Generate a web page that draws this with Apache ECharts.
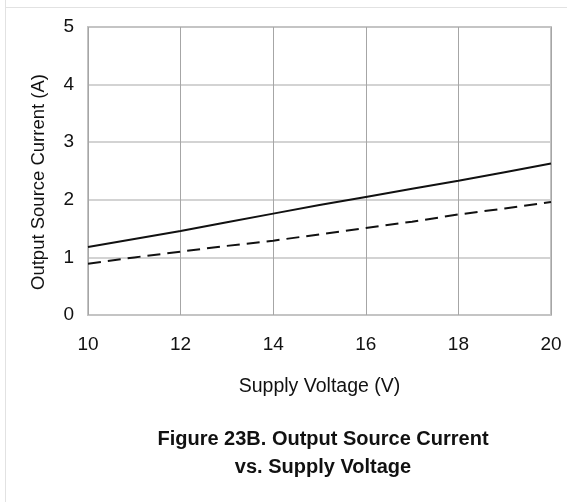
<!DOCTYPE html>
<html>
<head>
<meta charset="utf-8">
<script src="https://cdn.jsdelivr.net/npm/echarts@6/dist/echarts.min.js"></script>
<style>
html,body{margin:0;padding:0;background:#fff;}
#c{width:567px;height:502px;}
</style>
</head>
<body>
<div id="c"></div>
<script>
var voltage = [10, 11, 12, 13, 14, 15, 16, 17, 18, 19, 20];
var currentSolid = [1.18, 1.32, 1.46, 1.61, 1.76, 1.91, 2.05, 2.19, 2.33, 2.48, 2.63];
var currentDashed = [0.89, 1.00, 1.10, 1.20, 1.29, 1.40, 1.51, 1.62, 1.745, 1.85, 1.96];
var xTicks = [10, 12, 14, 16, 18, 20];
var yTicks = [0, 1, 2, 3, 4, 5];
var xTitle = 'Supply Voltage (V)';
var yTitle = 'Output Source Current (A)';
var figTitle = 'Figure 23B. Output Source Current\nvs. Supply Voltage';

function pairs(xs, ys){ return xs.map(function(x,i){ return [x, ys[i]]; }); }

var chart = echarts.init(document.getElementById('c'), null, {renderer:'canvas'});
var font = 'Liberation Sans, Arial, sans-serif';
chart.setOption({
  animation: false,
  backgroundColor: '#fff',
  grid: {left: 88, top: 27, right: 16, bottom: 187, show: true, borderColor: '#c4c4c4', borderWidth: 2},
  title: {
    text: figTitle, left: 318, top: 420, textAlign: 'center',
    textStyle: {fontFamily: font, fontWeight: 'bold', fontSize: 20, color: '#111', lineHeight: 28}
  },
  graphic: [
    {type:'line', shape:{x1:5.5,y1:0,x2:5.5,y2:502}, style:{stroke:'#e2e2e2', lineWidth:1}, silent:true},
    {type:'line', shape:{x1:5,y1:7.5,x2:567,y2:7.5}, style:{stroke:'#e2e2e2', lineWidth:1}, silent:true}
  ],
  xAxis: {
    type: 'value', min: xTicks[0], max: xTicks[xTicks.length-1], interval: 2,
    name: xTitle, nameLocation: 'middle', nameGap: 62,
    nameTextStyle: {fontFamily: font, fontSize: 19.5, color: '#111'},
    axisLine: {show: false}, axisTick: {show: false},
    axisLabel: {fontFamily: font, fontSize: 19, color: '#111', margin: 20},
    splitLine: {show: true, lineStyle: {color: '#a6a6a6', width: 1}}
  },
  yAxis: {
    type: 'value', min: yTicks[0], max: yTicks[yTicks.length-1], interval: 1,
    name: yTitle, nameLocation: 'middle', nameGap: 40, nameRotate: 90,
    nameTextStyle: {fontFamily: font, fontSize: 18.5, color: '#111', padding: [0, 22, 0, 0]},
    axisLine: {show: false}, axisTick: {show: false},
    axisLabel: {fontFamily: font, fontSize: 19, color: '#111', margin: 14},
    splitLine: {show: true, lineStyle: {color: '#c4c4c4', width: 1.5}}
  },
  series: [
    {type:'line', data: pairs(voltage, currentSolid), showSymbol:false, smooth:false,
     lineStyle:{color:'#111', width:2, type:'solid'}},
    {type:'line', data: pairs(voltage, currentDashed), showSymbol:false, smooth:false,
     lineStyle:{color:'#111', width:2, type:[13,7]}}
  ]
});
</script>
</body>
</html>
